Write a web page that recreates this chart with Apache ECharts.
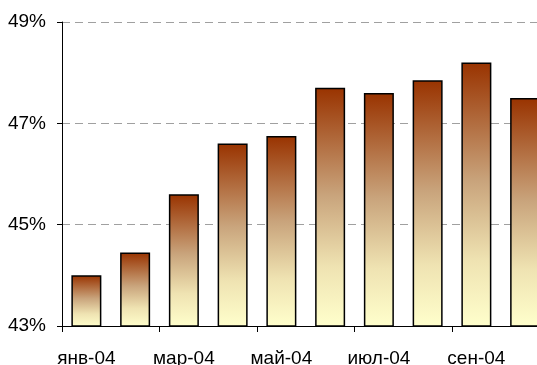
<!DOCTYPE html>
<html>
<head>
<meta charset="utf-8">
<script src="https://cdn.jsdelivr.net/npm/echarts@6/dist/echarts.min.js"></script>
<style>
  html, body { margin: 0; padding: 0; background: #fff; }
  #chart { width: 537px; height: 365px; }
</style>
</head>
<body>
<div id="chart"></div>
<script>
const months = ['янв-04', 'фев-04', 'мар-04', 'апр-04', 'май-04', 'июн-04', 'июл-04', 'авг-04', 'сен-04', 'окт-04'];
const shares = [44.0, 44.45, 45.6, 46.6, 46.75, 47.7, 47.6, 47.85, 48.2, 47.5];
const yTicks = [43, 45, 47, 49];

const font = "'Liberation Sans', Arial, sans-serif";

const chart = echarts.init(document.getElementById('chart'));

chart.setOption({
  animation: false,
  // plot runs past the right edge, last bar is cut off like in the original
  grid: { left: 62, width: 487.5, top: 22, height: 304, containLabel: false, outerBoundsMode: 'none' },
  xAxis: {
    type: 'category',
    data: months,
    axisLine: { lineStyle: { color: '#000', width: 1 } },
    axisTick: { show: true, interval: 1, length: 6, lineStyle: { color: '#000' } },
    axisLabel: { interval: 1, margin: 23, color: '#000', fontSize: 19, fontFamily: font },
  },
  yAxis: {
    type: 'value',
    min: 43,
    max: 49,
    axisLine: { show: true, lineStyle: { color: '#000', width: 1 } },
    axisTick: { show: true, length: 5, customValues: yTicks, lineStyle: { color: '#000' } },
    axisLabel: {
      customValues: yTicks,
      margin: 16,
      color: '#000',
      fontSize: 19,
      fontFamily: font,
      formatter: v => v + '%',
    },
    splitLine: { show: true, lineStyle: { color: '#a0a0a0', type: [8, 5], width: 1 } },
  },
  series: [
    {
      type: 'bar',
      data: shares,
      barWidth: 30,
      itemStyle: {
        borderColor: '#000',
        borderWidth: 1.5,
        color: new echarts.graphic.LinearGradient(0, 0, 0, 1, [
          { offset: 0, color: '#993300' },
          { offset: 0.45, color: '#c9a47c' },
          { offset: 0.75, color: '#efe3b2' },
          { offset: 1, color: '#ffffcc' },
        ]),
      },
    },
  ],
});
</script>
</body>
</html>
